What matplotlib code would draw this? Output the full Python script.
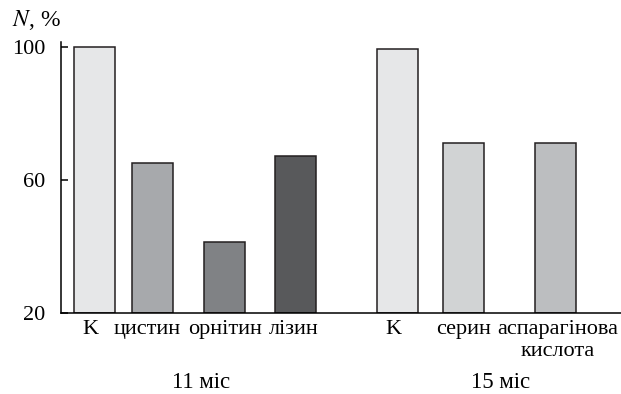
import numpy as np
import matplotlib.pyplot as plt

plt.rcParams['font.family'] = ['Liberation Serif', 'DejaVu Serif']
plt.rcParams['mathtext.fontset'] = 'stix'

labels = ['K', 'цистин', 'орнітин', 'лізин', 'K', 'серин', 'аспарагінова\nкислота']
values = [100, 65.3, 41.3, 67.2, 99.6, 71.3, 71.3]
colors = ['#e6e7e8', '#a7a9ac', '#808285', '#58595b', '#e6e7e8', '#d1d3d4', '#bcbec0']
positions = [33.5, 91, 163.5, 234.5, 336, 402.5, 494.5]
label_pos = [29, 86, 164, 233, 332, 403, 497]
groups = ['11 міс', '15 міс']
group_pos = [140, 440]

fig = plt.figure(figsize=(6.21, 3.94), dpi=100)
ax = fig.add_axes([61/621, 81/394, 560/621, 271/394])

ax.bar(positions, np.array(values) - 20, bottom=20, width=41, color=colors,
       edgecolor='#231f20', linewidth=1.1)

ax.set_xlim(0, 560)
ax.set_ylim(20, 101.6)
ax.set_yticks([20, 60, 100])
ax.set_xticks(label_pos)
ax.set_xticklabels(labels, fontsize=16, linespacing=1.25)
ax.tick_params(axis='x', length=0, pad=5)
ax.tick_params(axis='y', direction='in', length=5, width=1.1, labelsize=16, pad=11)

for s in ['top', 'right']:
    ax.spines[s].set_visible(False)
ax.spines['left'].set_linewidth(1.1)
ax.spines['bottom'].set_linewidth(1.1)

for g, gx in zip(groups, group_pos):
    ax.text(gx, -0.255, g, transform=ax.get_xaxis_transform(), ha='center',
            va='center', fontsize=16.5)

fig.text(12/621, 1 - 20/394, '$N$, %', ha='left', va='center', fontsize=17)

fig.savefig('out.png', dpi=100)
